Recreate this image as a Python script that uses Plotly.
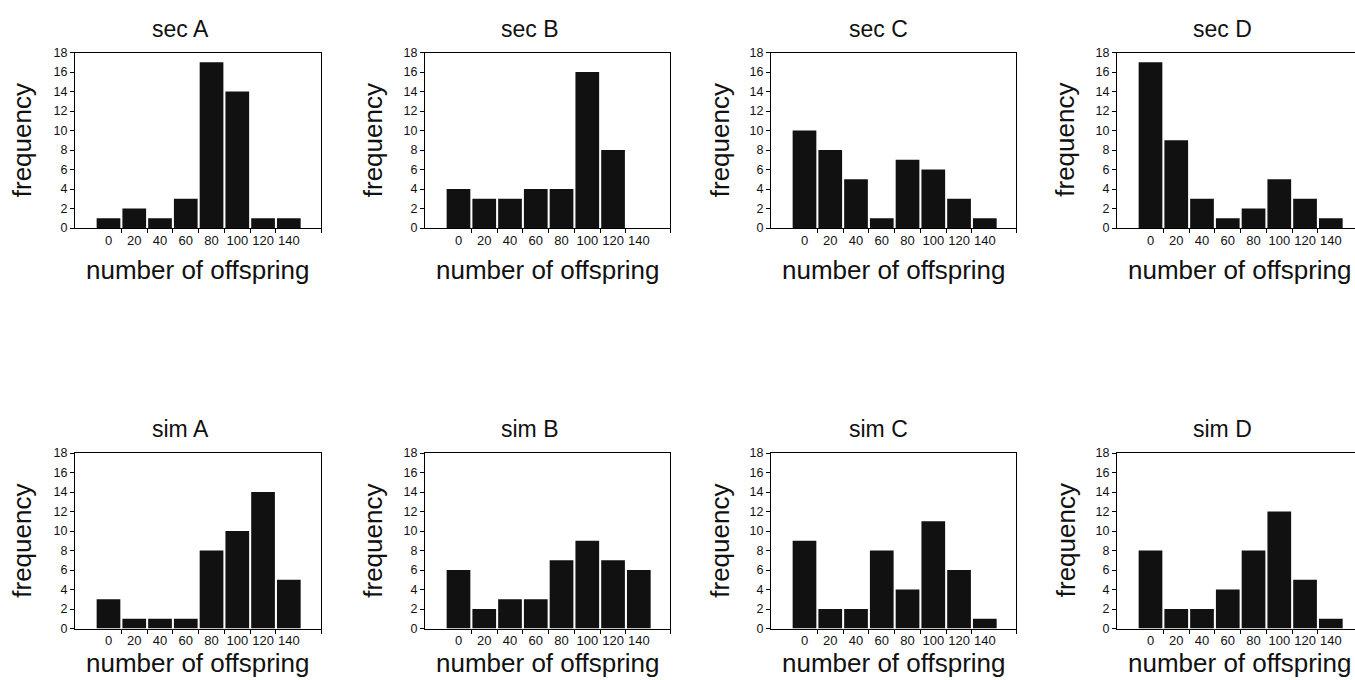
import plotly.graph_objects as go

bin_centers = [0, 20, 40, 60, 80, 100, 120, 140]
bin_edges_inner = [10, 30, 50, 70, 90, 110, 130]
y_ticks = [0, 2, 4, 6, 8, 10, 12, 14, 16, 18]

panel_titles = ["sec A", "sec B", "sec C", "sec D", "sim A", "sim B", "sim C", "sim D"]
sec_A = [1, 2, 1, 3, 17, 14, 1, 1]
sec_B = [4, 3, 3, 4, 4, 16, 8, 0]
sec_C = [10, 8, 5, 1, 7, 6, 3, 1]
sec_D = [17, 9, 3, 1, 2, 5, 3, 1]
sim_A = [3, 1, 1, 1, 8, 10, 14, 5]
sim_B = [6, 2, 3, 3, 7, 9, 7, 6]
sim_C = [9, 2, 2, 8, 4, 11, 6, 1]
sim_D = [8, 2, 2, 4, 8, 12, 5, 1]
series = [sec_A, sec_B, sec_C, sec_D, sim_A, sim_B, sim_C, sim_D]

W, H = 1355, 680
FONT = "Liberation Sans, Arial, sans-serif"
PX_PER_UNIT = 1.288
X0 = -26.0

# frame positions in pixels (left, right) per column, (top, bottom) per row
col_frames = [(75, 321), (425, 670), (771, 1016), (1117, 1355)]
row_frames = [(52.5, 228), (453, 628.5)]
title_dx = [-18, -18.5, -15.5, -18]
ytitle_x = [22, 373, 720, 1065.5]
title_y = [29, 429]
xtitle_y = [270, 663]

fig = go.Figure()
annotations = []

for i, (name, vals) in enumerate(zip(panel_titles, series)):
    r, c = divmod(i, 4)
    k = "" if i == 0 else str(i + 1)
    xl, xr = col_frames[c]
    yt, yb = row_frames[r]
    fig.add_trace(go.Bar(
        x=bin_centers, y=vals, xaxis="x" + k, yaxis="y" + k,
        marker=dict(color="#111111", line=dict(width=0)),
        width=18.4, showlegend=False, hoverinfo="x+y",
    ))
    x_hi = X0 + (xr - xl) / PX_PER_UNIT
    last = (c == 3)
    minor_vals = bin_edges_inner + ([] if last else [x_hi])
    fig.layout["xaxis" + k] = dict(
        domain=[xl / W, xr / W], anchor="y" + k, range=[X0, x_hi],
        tickmode="array", tickvals=bin_centers, ticktext=[str(v) for v in bin_centers],
        ticks="", showgrid=False, zeroline=False,
        showline=True, linecolor="black", linewidth=1.2, mirror=True,
        tickfont=dict(family=FONT, size=13, color="#111111"),
        minor=dict(tickmode="array", tickvals=minor_vals, ticks="outside",
                   ticklen=4, tickcolor="black", tickwidth=1.2, showgrid=False),
        fixedrange=True,
    )
    fig.layout["yaxis" + k] = dict(
        domain=[1 - yb / H, 1 - yt / H], anchor="x" + k, range=[0, 18],
        tickmode="array", tickvals=y_ticks, ticks="outside", ticklen=4,
        tickcolor="black", tickwidth=1.2,
        showgrid=False, zeroline=False,
        showline=True, linecolor="black", linewidth=1.2, mirror=(not last),
        tickfont=dict(family=FONT, size=12.5, color="#111111"),
        fixedrange=True,
    )
    cx = (xl + (xl + 246)) / 2
    annotations.append(dict(text=name, x=(cx + title_dx[c]) / W, y=1 - title_y[r] / H,
                            xref="paper", yref="paper", showarrow=False,
                            xanchor="center", yanchor="middle",
                            font=dict(family=FONT, size=23, color="#111111")))
    annotations.append(dict(text="number of offspring", x=cx / W, y=1 - xtitle_y[r] / H,
                            xref="paper", yref="paper", showarrow=False,
                            xanchor="center", yanchor="middle",
                            font=dict(family=FONT, size=26, color="#111111")))
    annotations.append(dict(text="frequency", x=ytitle_x[c] / W, y=1 - (yt + yb) / 2 / H,
                            xref="paper", yref="paper", showarrow=False, textangle=-90,
                            xanchor="center", yanchor="middle",
                            font=dict(family=FONT, size=26, color="#111111")))

fig.update_layout(
    width=W, height=H, margin=dict(l=0, r=0, t=0, b=0, pad=0, autoexpand=False),
    paper_bgcolor="white", plot_bgcolor="white",
    bargap=0.08, annotations=annotations, showlegend=False,
)

fig.write_html("out.html", config={"displayModeBar": False},
               post_script="document.body.style.margin='0px';")
